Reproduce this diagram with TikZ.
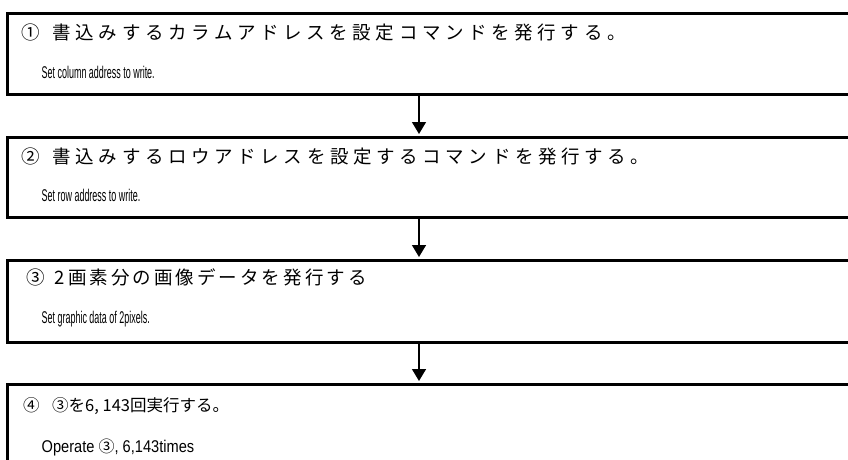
\documentclass[tikz,border=0pt]{standalone}
\usepackage{fontspec}
\usetikzlibrary{arrows.meta}
\newfontfamily\jpfont{Noto Sans CJK JP}
\newfontfamily\enfont[FakeStretch=0.527]{Liberation Sans}
\newfontfamily\enwidefont[FakeStretch=0.86]{Liberation Sans}
\begin{document}
\begin{tikzpicture}[x=1pt,y=-1pt,
  stepbox/.style={draw, line width=3pt, rectangle, anchor=north west,
    minimum width=880pt, inner sep=0pt, outer sep=0pt},
  jp/.style={anchor=base west, inner sep=0pt, font=\jpfont\fontsize{18.5}{20}\selectfont},
  jpsmall/.style={anchor=base west, inner sep=0pt, font=\jpfont\fontsize{16.5}{18}\selectfont},
  en/.style={anchor=base west, inner sep=0pt, font=\enfont\fontsize{17}{18}\selectfont},
  enwide/.style={anchor=base west, inner sep=0pt, font=\enwidefont\fontsize{17}{18}\selectfont},
  flow/.style={line width=1.5pt, -{Triangle[width=14pt,length=12pt]}, shorten >=3pt}]
\useasboundingbox (0,0) rectangle (848,460);
\clip (0,0) rectangle (848,460);
% boxes
\node[stepbox, minimum height=81pt] (b1) at (7.5,13.5) {};
\node[stepbox, minimum height=80pt] (b2) at (7.5,137) {};
\node[stepbox, minimum height=82pt] (b3) at (7.5,260) {};
\node[stepbox, minimum height=90pt] (b4) at (7.5,384) {};
% texts
\node[jp] (j1) at (21,40) {\addfontfeature{LetterSpace=25}①\hspace{13pt}書込みするカラムアドレスを設定コマンドを発行する。};
\node[en] (e1) at (41.5,78) {Set column address to write.};
\node[jp] (j2) at (21,163.5) {\addfontfeature{LetterSpace=25}②\hspace{13pt}書込みするロウアドレスを設定するコマンドを発行する。};
\node[en] (e2) at (41.5,201.5) {Set row address to write.};
\node[jp] (j3) at (26,284.5) {\addfontfeature{LetterSpace=16.5}③\hspace{10pt}2画素分の画像データを発行する};
\node[en] (e3) at (41.5,323.5) {Set graphic data of 2pixels.};
\node[jpsmall] (j4) at (23,411) {④\hspace{12.5pt}③を6, 143回実行する。};
\node[enwide] (e4) at (41.5,452.5) {Operate {\jpfont\fontsize{16}{18}\selectfont ③}, 6,143times};
% connectors
\coordinate (ax) at (419,0);
\draw[flow] (b1.south -| ax) -- (b2.north -| ax);
\draw[flow] (b2.south -| ax) -- (b3.north -| ax);
\draw[flow] (b3.south -| ax) -- (b4.north -| ax);
\end{tikzpicture}
\end{document}
